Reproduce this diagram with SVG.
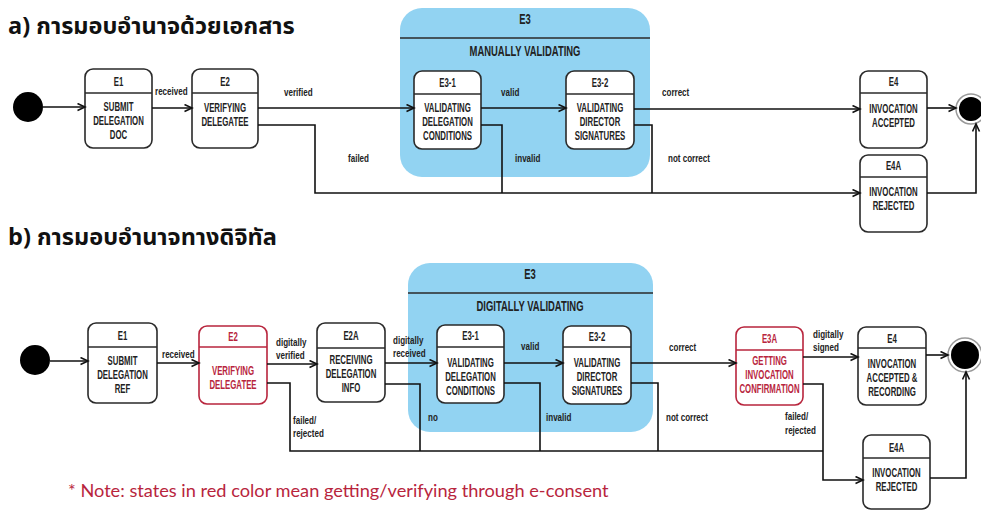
<svg xmlns="http://www.w3.org/2000/svg" width="981" height="511" viewBox="0 0 981 511">
<style>
.title{font-family:"Noto Sans Thai","Noto Sans","DejaVu Sans",sans-serif;font-weight:bold;font-size:23.5px;fill:#111}
.box{fill:#fff;stroke:#2a2a2a;stroke-width:1.6}
.rbox{fill:#fff;stroke:#b8253d;stroke-width:1.6}
.div{stroke:#2a2a2a;stroke-width:1.4}
.rdiv{stroke:#b8253d;stroke-width:1.4}
.comp{fill:#92d3f2;stroke:none}
.t{font-family:"Liberation Sans",Arial,sans-serif;font-weight:bold;font-size:12.4px;fill:#222;text-anchor:middle}
.rt{fill:#b8253d}
.big{font-size:15.5px}
.lbl{font-family:"Liberation Sans",Arial,sans-serif;font-weight:bold;font-size:11.5px;fill:#222}
.ln{fill:none;stroke:#111;stroke-width:1.6}
.note{font-family:Lato,"Open Sans",sans-serif;font-size:18.2px;fill:#b8253d}
</style>
<defs>
<marker id="arr" markerWidth="10" markerHeight="10" refX="8" refY="4" orient="auto" markerUnits="userSpaceOnUse">
<path d="M0.5,0.5 L8,4 L0.5,7.5" fill="none" stroke="#111" stroke-width="1.6"/>
</marker>
</defs>
<rect width="981" height="511" fill="#fff"/>

<!-- Part a -->
<text class="title" x="8" y="34">a) การมอบอำนาจด้วยเอกสาร</text>

<g id="a-E3">
<rect class="comp" x="400" y="8" width="250" height="169" rx="22"/>
<line class="div" x1="400" y1="38" x2="650" y2="38"/>
<g transform="translate(525,0) scale(0.61,1)"><text class="t big" x="0" y="24">E3</text><text class="t big" x="0" y="56">MANUALLY VALIDATING</text></g>
</g>

<g id="a-start"><circle cx="28" cy="107" r="15" fill="#000"/></g>

<g id="a-E1">
<rect class="box" x="85" y="69" width="67" height="79" rx="8"/>
<line class="div" x1="85" y1="93" x2="152" y2="93"/>
<g transform="translate(118.5,0) scale(0.63,1)"><text class="t" x="0" y="86">E1</text><text class="t" x="0" y="111">SUBMIT</text><text class="t" x="0" y="125">DELEGATION</text><text class="t" x="0" y="139">DOC</text></g>
</g>

<g id="a-E2">
<rect class="box" x="192" y="69" width="66" height="79" rx="8"/>
<line class="div" x1="192" y1="93" x2="258" y2="93"/>
<g transform="translate(225,0) scale(0.63,1)"><text class="t" x="0" y="86">E2</text><text class="t" x="0" y="112">VERIFYING</text><text class="t" x="0" y="126">DELEGATEE</text></g>
</g>

<g id="a-E3-1">
<rect class="box" x="414" y="71" width="67" height="78" rx="8"/>
<line class="div" x1="414" y1="94" x2="481" y2="94"/>
<g transform="translate(447.5,0) scale(0.63,1)"><text class="t" x="0" y="87">E3-1</text><text class="t" x="0" y="112">VALIDATING</text><text class="t" x="0" y="126">DELEGATION</text><text class="t" x="0" y="140">CONDITIONS</text></g>
</g>

<g id="a-E3-2">
<rect class="box" x="566" y="71" width="68" height="78" rx="8"/>
<line class="div" x1="566" y1="94" x2="634" y2="94"/>
<g transform="translate(600,0) scale(0.63,1)"><text class="t" x="0" y="87">E3-2</text><text class="t" x="0" y="112">VALIDATING</text><text class="t" x="0" y="126">DIRECTOR</text><text class="t" x="0" y="140">SIGNATURES</text></g>
</g>

<g id="a-E4">
<rect class="box" x="860" y="71" width="67" height="77" rx="8"/>
<line class="div" x1="860" y1="93" x2="927" y2="93"/>
<g transform="translate(893.5,0) scale(0.63,1)"><text class="t" x="0" y="86">E4</text><text class="t" x="0" y="113">INVOCATION</text><text class="t" x="0" y="127">ACCEPTED</text></g>
</g>

<g id="a-E4A">
<rect class="box" x="860" y="155" width="67" height="77" rx="8"/>
<line class="div" x1="860" y1="177" x2="927" y2="177"/>
<g transform="translate(893.5,0) scale(0.63,1)"><text class="t" x="0" y="170">E4A</text><text class="t" x="0" y="196">INVOCATION</text><text class="t" x="0" y="210">REJECTED</text></g>
</g>

<g id="a-end"><circle cx="971" cy="109" r="15" fill="#fff" stroke="#999" stroke-width="1.5"/><circle cx="971" cy="109" r="12" fill="#000"/></g>

<g id="a-connectors">
<line class="ln" x1="43" y1="107" x2="85" y2="107" marker-end="url(#arr)"/>
<line class="ln" x1="152" y1="108" x2="192" y2="108" marker-end="url(#arr)"/>
<line class="ln" x1="258" y1="108" x2="414" y2="108" marker-end="url(#arr)"/>
<path class="ln" d="M258,125 H315 V193 H860" marker-end="url(#arr)"/>
<line class="ln" x1="481" y1="108" x2="566" y2="108" marker-end="url(#arr)"/>
<path class="ln" d="M481,125 H502 V193"/>
<path class="ln" d="M634,125 H652 V193"/>
<line class="ln" x1="634" y1="109" x2="860" y2="109" marker-end="url(#arr)"/>
<line class="ln" x1="927" y1="108" x2="956" y2="108" marker-end="url(#arr)"/>
<path class="ln" d="M927,193 H976 V124" marker-end="url(#arr)"/>
<text class="lbl" transform="translate(155,95) scale(0.7,1)">received</text>
<text class="lbl" transform="translate(284,96) scale(0.7,1)">verified</text>
<text class="lbl" transform="translate(348,162) scale(0.7,1)">failed</text>
<text class="lbl" transform="translate(501,96) scale(0.7,1)">valid</text>
<text class="lbl" transform="translate(515,162) scale(0.7,1)">invalid</text>
<text class="lbl" transform="translate(662,96) scale(0.7,1)">correct</text>
<text class="lbl" transform="translate(668,162) scale(0.7,1)">not correct</text>
</g>

<!-- Part b -->
<text class="title" x="8" y="245">b) การมอบอำนาจทางดิจิทัล</text>

<g id="b-E3">
<rect class="comp" x="408" y="263" width="245" height="169" rx="22"/>
<line class="div" x1="408" y1="293" x2="653" y2="293"/>
<g transform="translate(530,0) scale(0.61,1)"><text class="t big" x="0" y="279">E3</text><text class="t big" x="0" y="311">DIGITALLY VALIDATING</text></g>
</g>

<g id="b-start"><circle cx="35" cy="360" r="15" fill="#000"/></g>

<g id="b-E1">
<rect class="box" x="88" y="323" width="69" height="80" rx="8"/>
<line class="div" x1="88" y1="347" x2="157" y2="347"/>
<g transform="translate(122.5,0) scale(0.63,1)"><text class="t" x="0" y="340">E1</text><text class="t" x="0" y="365">SUBMIT</text><text class="t" x="0" y="379">DELEGATION</text><text class="t" x="0" y="393">REF</text></g>
</g>

<g id="b-E2">
<rect class="rbox" x="199" y="326" width="68" height="78" rx="8"/>
<line class="rdiv" x1="199" y1="347" x2="267" y2="347"/>
<g transform="translate(233,0) scale(0.63,1)"><text class="t rt" x="0" y="341">E2</text><text class="t rt" x="0" y="375">VERIFYING</text><text class="t rt" x="0" y="389">DELEGATEE</text></g>
</g>

<g id="b-E2A">
<rect class="box" x="317" y="323" width="68" height="79" rx="8"/>
<line class="div" x1="317" y1="348" x2="385" y2="348"/>
<g transform="translate(351,0) scale(0.63,1)"><text class="t" x="0" y="340">E2A</text><text class="t" x="0" y="364">RECEIVING</text><text class="t" x="0" y="378">DELEGATION</text><text class="t" x="0" y="392">INFO</text></g>
</g>

<g id="b-E3-1">
<rect class="box" x="437" y="325" width="67" height="78" rx="8"/>
<line class="div" x1="437" y1="347" x2="504" y2="347"/>
<g transform="translate(470.5,0) scale(0.63,1)"><text class="t" x="0" y="340">E3-1</text><text class="t" x="0" y="367">VALIDATING</text><text class="t" x="0" y="381">DELEGATION</text><text class="t" x="0" y="395">CONDITIONS</text></g>
</g>

<g id="b-E3-2">
<rect class="box" x="563" y="326" width="68" height="78" rx="8"/>
<line class="div" x1="563" y1="347" x2="631" y2="347"/>
<g transform="translate(597,0) scale(0.63,1)"><text class="t" x="0" y="341">E3-2</text><text class="t" x="0" y="367">VALIDATING</text><text class="t" x="0" y="381">DIRECTOR</text><text class="t" x="0" y="395">SIGNATURES</text></g>
</g>

<g id="b-E3A">
<rect class="rbox" x="736" y="327" width="67" height="78" rx="8"/>
<line class="rdiv" x1="736" y1="350" x2="803" y2="350"/>
<g transform="translate(769.5,0) scale(0.63,1)"><text class="t rt" x="0" y="343">E3A</text><text class="t rt" x="0" y="365">GETTING</text><text class="t rt" x="0" y="379">INVOCATION</text><text class="t rt" x="0" y="393">CONFIRMATION</text></g>
</g>

<g id="b-E4">
<rect class="box" x="858" y="327" width="68" height="78" rx="8"/>
<line class="div" x1="858" y1="348" x2="926" y2="348"/>
<g transform="translate(892,0) scale(0.63,1)"><text class="t" x="0" y="343">E4</text><text class="t" x="0" y="368">INVOCATION</text><text class="t" x="0" y="382">ACCEPTED &amp;</text><text class="t" x="0" y="396">RECORDING</text></g>
</g>

<g id="b-E4A">
<rect class="box" x="863" y="435" width="67" height="74" rx="8"/>
<line class="div" x1="863" y1="458" x2="930" y2="458"/>
<g transform="translate(896.5,0) scale(0.63,1)"><text class="t" x="0" y="452">E4A</text><text class="t" x="0" y="477">INVOCATION</text><text class="t" x="0" y="491">REJECTED</text></g>
</g>

<g id="b-end"><circle cx="965" cy="355" r="17" fill="#fff" stroke="#999" stroke-width="1.5"/><circle cx="965" cy="355" r="14" fill="#000"/></g>

<g id="b-connectors">
<line class="ln" x1="50" y1="361" x2="88" y2="361" marker-end="url(#arr)"/>
<line class="ln" x1="157" y1="363" x2="199" y2="363" marker-end="url(#arr)"/>
<line class="ln" x1="267" y1="364" x2="317" y2="364" marker-end="url(#arr)"/>
<path class="ln" d="M267,383 H290 V451 H823"/>
<line class="ln" x1="385" y1="363" x2="437" y2="363" marker-end="url(#arr)"/>
<path class="ln" d="M385,384 H420 V451"/>
<line class="ln" x1="504" y1="363" x2="563" y2="363" marker-end="url(#arr)"/>
<path class="ln" d="M504,383 H540 V451"/>
<path class="ln" d="M631,383 H658 V451"/>
<line class="ln" x1="631" y1="363" x2="736" y2="363" marker-end="url(#arr)"/>
<line class="ln" x1="803" y1="357" x2="858" y2="357" marker-end="url(#arr)"/>
<path class="ln" d="M803,384 H823 V480 H863" marker-end="url(#arr)"/>
<line class="ln" x1="926" y1="355" x2="948" y2="355" marker-end="url(#arr)"/>
<path class="ln" d="M930,478 H966 V372" marker-end="url(#arr)"/>
<text class="lbl" transform="translate(162,358) scale(0.7,1)">received</text>
<text class="lbl" transform="translate(276,346) scale(0.7,1)">digitally</text>
<text class="lbl" transform="translate(276,359) scale(0.7,1)">verified</text>
<text class="lbl" transform="translate(293,424) scale(0.7,1)">failed/</text>
<text class="lbl" transform="translate(293,437) scale(0.7,1)">rejected</text>
<text class="lbl" transform="translate(393,344) scale(0.7,1)">digitally</text>
<text class="lbl" transform="translate(393,357) scale(0.7,1)">received</text>
<text class="lbl" transform="translate(428,421) scale(0.7,1)">no</text>
<text class="lbl" transform="translate(521,350) scale(0.7,1)">valid</text>
<text class="lbl" transform="translate(546,421) scale(0.7,1)">invalid</text>
<text class="lbl" transform="translate(669,351) scale(0.7,1)">correct</text>
<text class="lbl" transform="translate(666,421) scale(0.7,1)">not correct</text>
<text class="lbl" transform="translate(813,338) scale(0.7,1)">digitally</text>
<text class="lbl" transform="translate(813,351) scale(0.7,1)">signed</text>
<text class="lbl" transform="translate(785,420) scale(0.7,1)">failed/</text>
<text class="lbl" transform="translate(785,434) scale(0.7,1)">rejected</text>
</g>

<text class="note" x="68" y="497">* Note: states in red color mean getting/verifying through e-consent</text>
</svg>
